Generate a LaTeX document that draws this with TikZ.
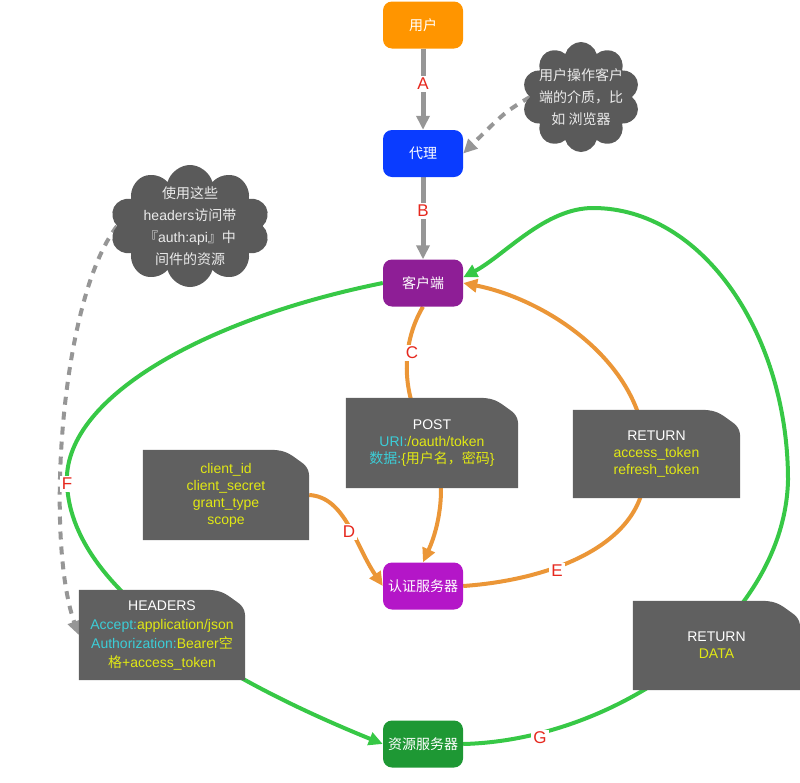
\documentclass[tikz,border=0pt]{standalone}
\usepackage{fontspec}
\setmainfont{Liberation Sans}
\newfontfamily\cjk{Noto Sans CJK SC}
\usetikzlibrary{shapes.symbols, arrows.meta, calc}

\definecolor{userorange}{RGB}{255,149,0}
\definecolor{proxyblue}{RGB}{10,60,255}
\definecolor{clientpurple}{RGB}{142,30,150}
\definecolor{authpurple}{RGB}{180,22,200}
\definecolor{resgreen}{RGB}{30,152,52}
\definecolor{notegray}{RGB}{96,96,96}
\definecolor{cloudgray}{RGB}{90,90,90}
\definecolor{linegray}{RGB}{150,150,150}
\definecolor{flowgreen}{RGB}{55,200,70}
\definecolor{floworange}{RGB}{235,150,55}
\definecolor{tagred}{RGB}{230,40,30}
\definecolor{keycyan}{RGB}{60,205,215}
\definecolor{valyellow}{RGB}{225,232,20}

\pgfdeclarelayer{lines}
\pgfdeclarelayer{paper}
\pgfsetlayers{lines,paper,main}

% note sheet with the cut top right corner
\newcommand{\notepaper}[1]{%
  \fill[notegray] (#1.south west) -- (#1.north west) -- ($(#1.north east)+(-40,0)$)
    .. controls ($(#1.north east)+(-28,0)$) and ($(#1.north east)+(-22,2)$) .. ($(#1.north east)+(-14,8)$)
    .. controls ($(#1.north east)+(-6,14)$) and ($(#1.north east)+(0,16)$) .. ($(#1.north east)+(0,28)$)
    -- (#1.south east) -- cycle;}
\newcommand{\cy}[1]{\textcolor{keycyan}{#1}}
\newcommand{\yl}[1]{\textcolor{valyellow}{#1}}

\begin{document}
\begin{tikzpicture}[
    x=1pt, y=-1pt,
    >={Triangle[length=14pt,width=13pt]},
    box/.style={
        rectangle,
        rounded corners=9pt,
        minimum width=80pt,
        minimum height=47pt,
        text=white,
        font=\cjk\fontsize{14}{17}\selectfont
    },
    note/.style={
        rectangle,
        inner sep=0pt,
        minimum height=90pt,
        align=center,
        text=white,
        font=\fontsize{14}{17}\selectfont
    },
    cloudy/.style={
        cloud,
        cloud puffs=10,
        cloud ignores aspect,
        fill=cloudgray,
        text=white!92!black,
        align=center,
        font=\fontsize{14}{22}\selectfont
    },
    tag/.style={fill=white, text=tagred, inner sep=2pt, font=\fontsize{17}{20}\selectfont},
    grayarrow/.style={->, linegray, line width=5pt},
    hintarrow/.style={->, linegray, line width=4pt, dash pattern=on 8pt off 7pt},
    orangearrow/.style={->, floworange, line width=4pt},
    greenarrow/.style={->, flowgreen, line width=4pt}
]
    \useasboundingbox (0,0) rectangle (800,782);

    % Main boxes
    \node[box, fill=userorange] (yonghu) at (423,25) {用户};
    \node[box, fill=proxyblue] (daili) at (423,153.5) {代理};
    \node[box, fill=clientpurple] (kehu) at (423,283) {客户端};
    \node[box, fill=authpurple] (renzheng) at (423,586) {认证服务器};
    \node[box, fill=resgreen] (ziyuan) at (423,744) {资源服务器};

    % Clouds
    \node[cloudy, font=\cjk\fontsize{14}{22}\selectfont, minimum width=118pt, minimum height=110pt,
          inner xsep=-12pt, inner ysep=-4pt] (cloudR) at (581,97)
        {用户操作客户\\端的介质，比\\如 浏览器};
    \node[cloudy, minimum width=160pt, minimum height=122pt,
          inner xsep=-8pt, inner ysep=-10pt] (cloudL) at (190,226)
        {{\cjk 使用这些}\\headers{\cjk 访问带}\\{\cjk 『}auth:api{\cjk 』中}\\{\cjk 间件的资源}};

    % Notes
    \node[note, minimum width=172pt] (postnote) at (432,443)
        {POST\\\cy{URI:}\yl{/oauth/token}\\\cy{\cjk 数据:}\yl{\{{\cjk 用户名，密码}\}}};
    \node[note, minimum width=166pt, text=valyellow] (paramnote) at (226,495)
        {client\_id\\client\_secret\\grant\_type\\scope};
    \node[note, minimum width=167pt, minimum height=88pt] (tokennote) at (656.5,454)
        {RETURN\\\yl{access\_token}\\\yl{refresh\_token}};
    \node[note, minimum width=166pt, font=\fontsize{14}{19}\selectfont] (hdrnote) at (162,635)
        {HEADERS\\\cy{Accept:}\yl{application/json}\\\cy{Authorization:}\yl{Bearer{\cjk 空}}\\\yl{{\cjk 格}+access\_token}};
    \node[note, minimum width=167pt, minimum height=89pt] (datanote) at (716.5,645.5)
        {RETURN\\\yl{DATA}};

    \begin{pgfonlayer}{paper}
        \foreach \n in {postnote, paramnote, tokennote, hdrnote, datanote} {\notepaper{\n}}
    \end{pgfonlayer}

    % Step letters
    \node[tag] (tagA) at (423,84) {A};
    \node[tag] (tagB) at (423,211) {B};
    \node[tag] (tagC) at (412,353) {C};
    \node[tag] (tagD) at (349,532) {D};
    \node[tag] (tagE) at (557,571) {E};
    \node[tag] (tagF) at (67,484) {F};
    \node[tag] (tagG) at (540,738) {G};

    \begin{pgfonlayer}{lines}
        \draw[grayarrow] (yonghu) -- (daili);
        \draw[grayarrow] (daili) -- (kehu);
        \draw[hintarrow] (cloudR.west) .. controls (505,112) .. (daili.east);
        \draw[hintarrow] (cloudL.west) .. controls (60,300) and (45,540) .. (hdrnote.west);

        \draw[orangearrow] (kehu.south) .. controls (400,345) and (400,400) .. (432,443)
            .. controls (448,480) and (440,525) .. (renzheng.north);
        \draw[orangearrow] (paramnote.east) .. controls (345,497) and (355,545) .. (renzheng.west);
        \draw[orangearrow] (renzheng.east) .. controls (550,580) and (645,545) .. (645,470)
            .. controls (655,370) and (550,300) .. (kehu.east);

        \draw[greenarrow] (kehu.west) .. controls (200,320) and (62,400) .. (67,484)
            .. controls (72,600) and (250,690) .. (ziyuan.west);
        \draw[greenarrow] (ziyuan.east) .. controls (620,740) and (785,620) .. (788,480)
            .. controls (788,335) and (703,208) .. (593,208)
            .. controls (545,208) and (505,255) .. (kehu.8);
    \end{pgfonlayer}
\end{tikzpicture}
\end{document}
